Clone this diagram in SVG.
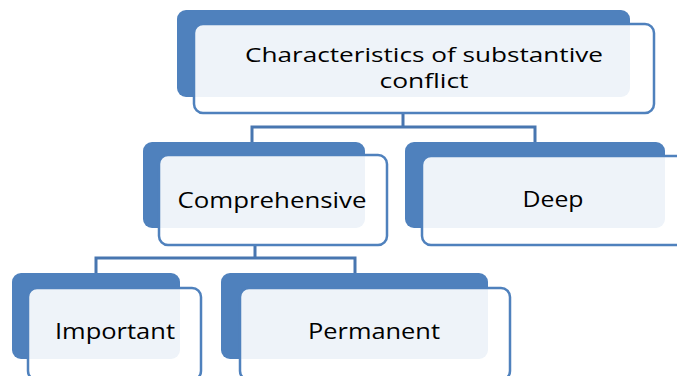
<svg xmlns="http://www.w3.org/2000/svg" width="677" height="376" viewBox="0 0 677 376">
<style>
.back{fill:#4F81BD}
.front{fill:#ffffff;fill-opacity:0.9;stroke:#4F81BD;stroke-width:2.5}
.t{font-family:"Open Sans","Liberation Sans",sans-serif;font-size:22px;fill:#000;text-anchor:middle}
.s{font-size:20px}
.c{fill:none;stroke:#4876B0;stroke-width:3}
</style>
<rect width="677" height="376" fill="#fff"/>
<g id="connectors">
<path class="c" d="M403 113V127M252 143V127H535V143"/>
<path class="c" d="M255 245V258M96 273V258H355V273"/>
</g>
<g id="n-top">
<rect class="back" x="177" y="10" width="453" height="87" rx="9"/>
<rect class="front" x="194" y="24" width="460" height="89" rx="9"/>
<text class="t s" x="424" y="62" textLength="358" lengthAdjust="spacingAndGlyphs">Characteristics of substantive</text>
<text class="t s" x="424" y="88" textLength="89" lengthAdjust="spacingAndGlyphs">conflict</text>
</g>
<g id="n-comp">
<rect class="back" x="143" y="142" width="222" height="86" rx="9"/>
<rect class="front" x="159" y="155" width="228" height="90" rx="9"/>
<text class="t" x="272" y="208" textLength="189" lengthAdjust="spacingAndGlyphs">Comprehensive</text>
</g>
<g id="n-deep">
<rect class="back" x="405" y="142" width="260" height="86" rx="9"/>
<rect class="front" x="422" y="156" width="265" height="89" rx="9"/>
<text class="t" x="553" y="207" textLength="61" lengthAdjust="spacingAndGlyphs">Deep</text>
</g>
<g id="n-imp">
<rect class="back" x="12" y="273" width="168" height="86" rx="9"/>
<rect class="front" x="28" y="288" width="173" height="92" rx="9"/>
<text class="t" x="115" y="339" textLength="120" lengthAdjust="spacingAndGlyphs">Important</text>
</g>
<g id="n-perm">
<rect class="back" x="221" y="273" width="267" height="86" rx="9"/>
<rect class="front" x="240" y="288" width="270" height="92" rx="9"/>
<text class="t" x="374" y="339" textLength="132" lengthAdjust="spacingAndGlyphs">Permanent</text>
</g>
</svg>
